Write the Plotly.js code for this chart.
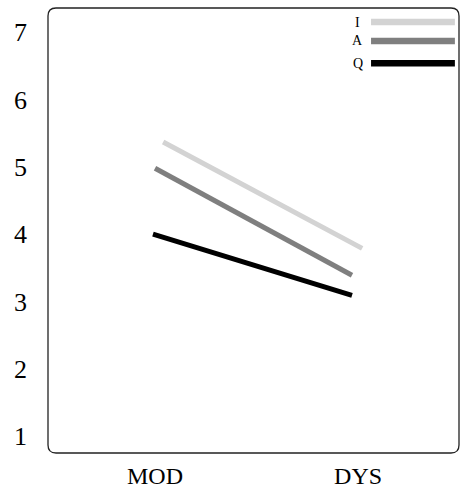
<!DOCTYPE html>
<html>
<head>
<meta charset="utf-8">
<script src="https://cdn.plot.ly/plotly-3.0.1.min.js"></script>
<style>html,body{margin:0;padding:0;background:#fff;}#chart{width:460px;height:492px;}</style>
</head>
<body>
<div id="chart"></div>
<script>
// Data
const categories = ["MOD", "DYS"];
const seriesNames = ["I", "A", "Q"];
const xI = [1.04, 2.02];
const yI = [5.37, 3.79];
const xA = [1.00, 1.97];
const yA = [4.98, 3.39];
const xQ = [0.99, 1.97];
const yQ = [4.00, 3.09];
const yTicks = [1, 2, 3, 4, 5, 6, 7];

const colors = ["#d3d3d3", "#7f7f7f", "#000000"];
const xs = [xI, xA, xQ];
const ys = [yI, yA, yQ];

const traces = seriesNames.map((n, i) => ({
  type: "scatter", mode: "lines", name: n,
  x: xs[i], y: ys[i],
  line: {color: colors[i], width: 5},
  showlegend: false, hoverinfo: "skip"
}));

const W = 411, H = 445, r = 8;
const rx = r / W, ry = r / H;
const borderPath = `M ${rx},0 L ${1-rx},0 Q 1,0 1,${ry} L 1,${1-ry} Q 1,1 ${1-rx},1 L ${rx},1 Q 0,1 0,${1-ry} L 0,${ry} Q 0,0 ${rx},0 Z`;

const shapes = [{
  type: "path", xref: "paper", yref: "paper", path: borderPath,
  line: {color: "#222", width: 1.3}
}];
const annotations = [];
const legendY = [0.9685, 0.926, 0.876];
seriesNames.forEach((n, i) => {
  shapes.push({type: "line", xref: "paper", yref: "paper",
    x0: 0.786, x1: 0.990, y0: legendY[i], y1: legendY[i],
    line: {color: colors[i], width: 6.5}});
  annotations.push({xref: "paper", yref: "paper", x: 0.754, y: legendY[i],
    text: n, showarrow: false, xanchor: "center", yanchor: "middle",
    font: {family: "Liberation Serif, serif", size: 14, color: "#000"}});
});

const layout = {
  width: 460, height: 492,
  margin: {l: 48, r: 1, t: 8, b: 39},
  paper_bgcolor: "#fff", plot_bgcolor: "#fff",
  font: {family: "Liberation Serif, serif", size: 26, color: "#000"},
  xaxis: {range: [0.473, 2.497], tickvals: [1, 2], ticktext: categories,
    tickfont: {size: 24},
    showgrid: false, zeroline: false, showline: false, ticks: "", ticklabelstandoff: 6,
    fixedrange: true},
  yaxis: {range: [0.75, 7.36], tickvals: yTicks, showgrid: false, zeroline: false,
    showline: false, ticks: "", ticklabelstandoff: 20, fixedrange: true},
  shapes: shapes,
  annotations: annotations,
  showlegend: false
};

Plotly.newPlot("chart", traces, layout, {displayModeBar: false, staticPlot: true});
</script>
</body>
</html>
